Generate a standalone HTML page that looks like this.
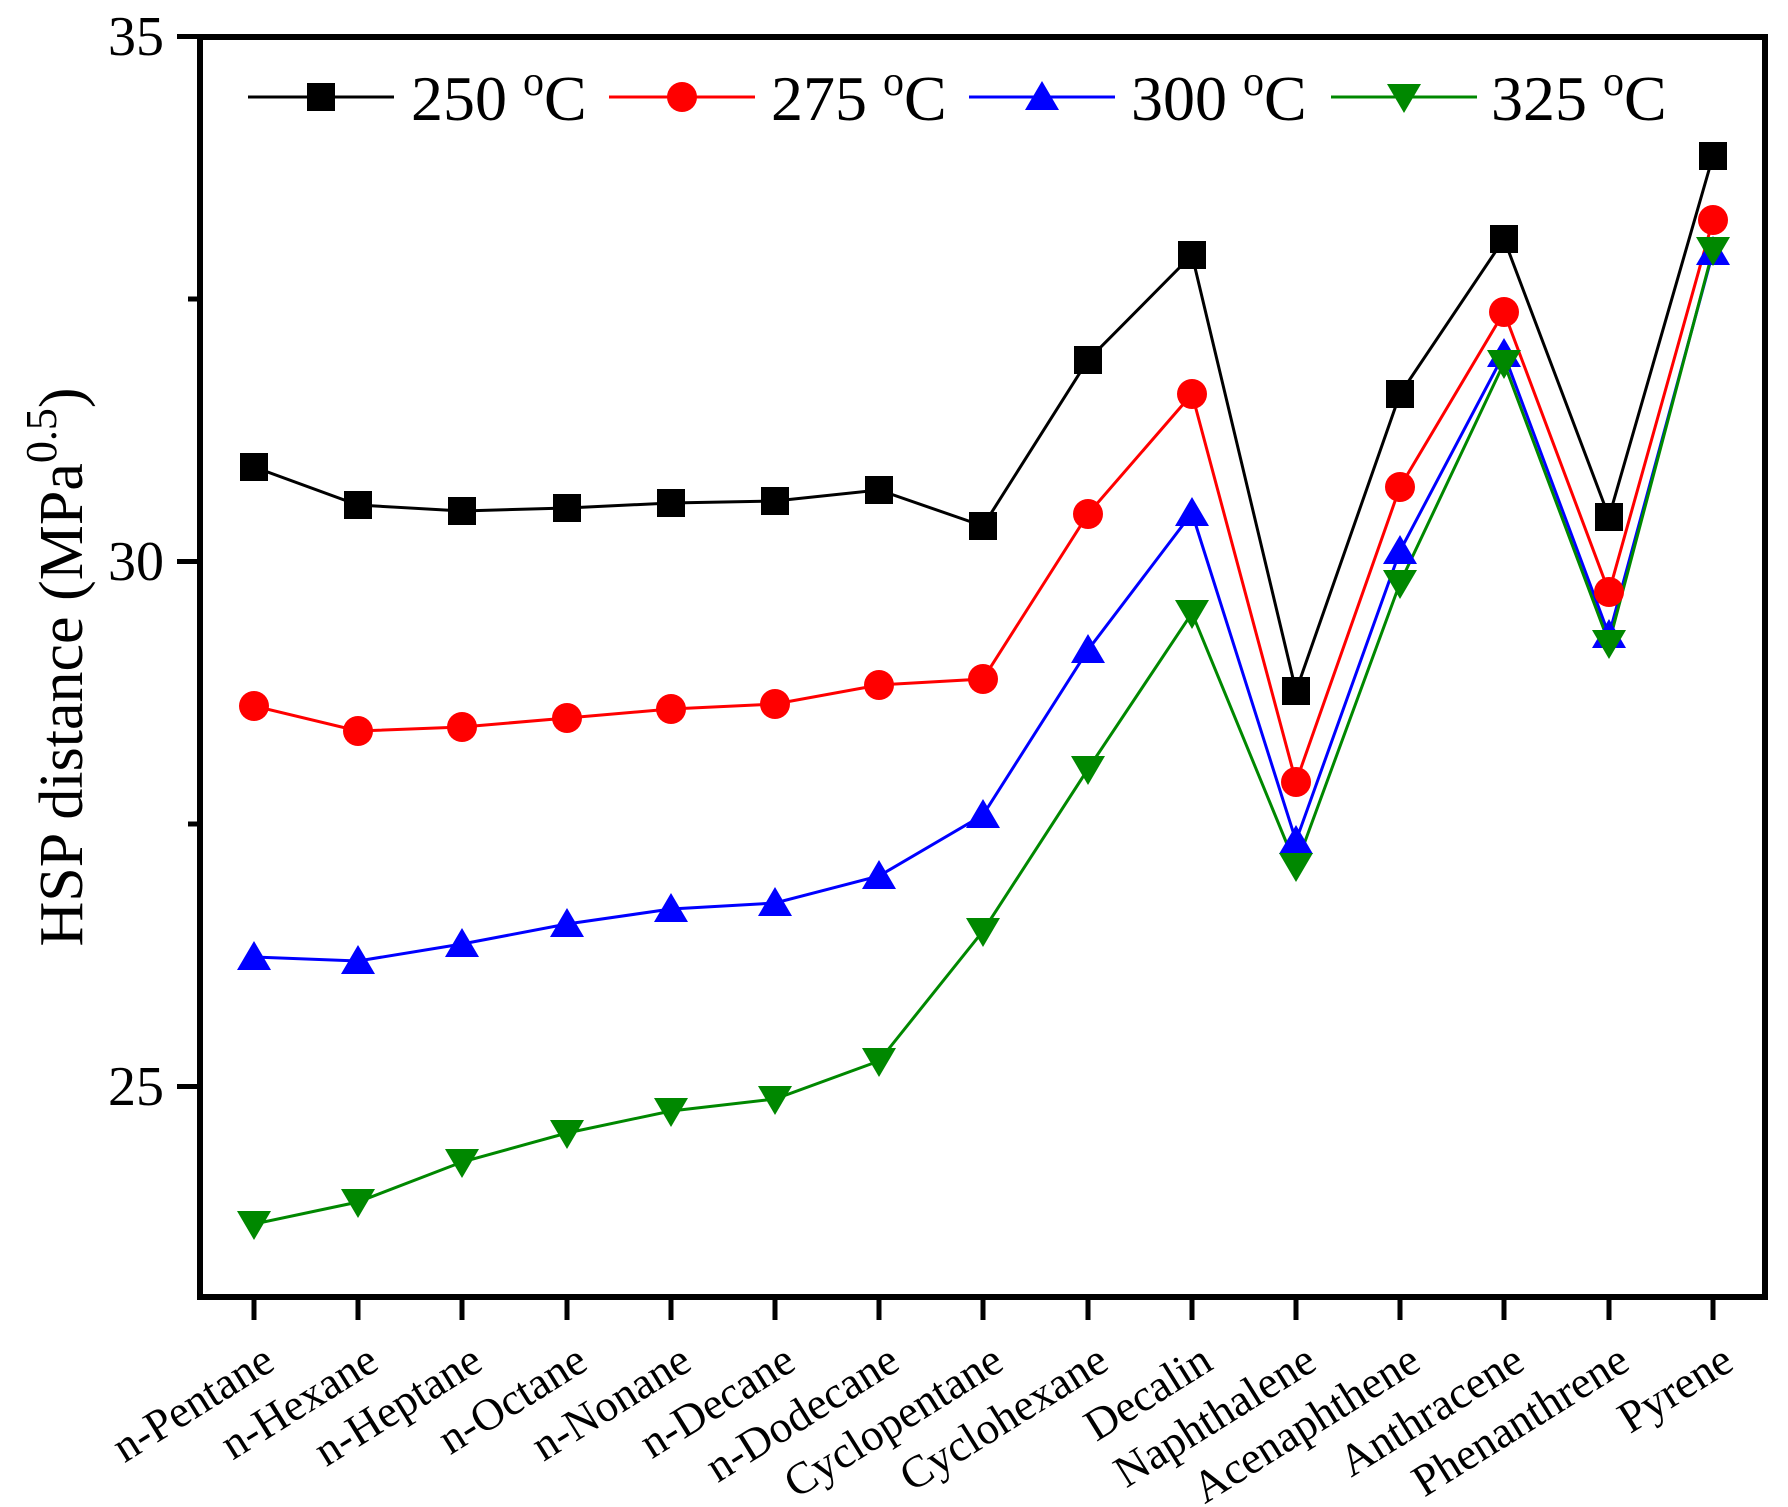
<!DOCTYPE html>
<html><head><style>body{margin:0;background:#fff}svg{display:block}</style></head><body>
<svg width="1788" height="1507" viewBox="0 0 1788 1507" xmlns="http://www.w3.org/2000/svg" xmlns:xlink="http://www.w3.org/1999/xlink" font-family="Liberation Serif, serif">
<defs>
<rect id="sq" x="-14" y="-14" width="28" height="28" fill="#000"/>
<circle id="ci" r="15" fill="#f00"/>
<polygon id="up" points="0,-16 17,13 -17,13" fill="#00f"/>
<polygon id="dn" points="0,16 17,-13 -17,-13" fill="#080"/>
</defs>
<rect width="1788" height="1507" fill="#fff"/>
<g fill="none" stroke-width="3">
<polyline stroke="#000" points="254,467 358,505 462,511 567,508 671,503 775,501 879,490 983,526 1088,360 1192,255 1296,691 1400,394 1504,239 1609,517 1713,156"/>
<polyline stroke="#f00" points="254,706 358,731 462,727 567,718 671,709 775,704 879,685 983,679 1088,514 1192,394 1296,782 1400,487 1504,312 1609,592 1713,220"/>
<polyline stroke="#00f" points="254,957 358,961 462,944 567,924 671,909 775,903 879,876 983,815 1088,650 1192,513 1296,841 1400,551 1504,354 1609,635 1713,252"/>
<polyline stroke="#080" points="254,1224 358,1202 462,1162 567,1133 671,1111 775,1099 879,1061 983,931 1088,769 1192,613 1296,866 1400,583 1504,363 1609,643 1713,250"/>
</g>
<g>
<use xlink:href="#sq" x="254" y="467"/><use xlink:href="#sq" x="358" y="505"/><use xlink:href="#sq" x="462" y="511"/><use xlink:href="#sq" x="567" y="508"/><use xlink:href="#sq" x="671" y="503"/><use xlink:href="#sq" x="775" y="501"/><use xlink:href="#sq" x="879" y="490"/><use xlink:href="#sq" x="983" y="526"/><use xlink:href="#sq" x="1088" y="360"/><use xlink:href="#sq" x="1192" y="255"/><use xlink:href="#sq" x="1296" y="691"/><use xlink:href="#sq" x="1400" y="394"/><use xlink:href="#sq" x="1504" y="239"/><use xlink:href="#sq" x="1609" y="517"/><use xlink:href="#sq" x="1713" y="156"/>
<use xlink:href="#ci" x="254" y="706"/><use xlink:href="#ci" x="358" y="731"/><use xlink:href="#ci" x="462" y="727"/><use xlink:href="#ci" x="567" y="718"/><use xlink:href="#ci" x="671" y="709"/><use xlink:href="#ci" x="775" y="704"/><use xlink:href="#ci" x="879" y="685"/><use xlink:href="#ci" x="983" y="679"/><use xlink:href="#ci" x="1088" y="514"/><use xlink:href="#ci" x="1192" y="394"/><use xlink:href="#ci" x="1296" y="782"/><use xlink:href="#ci" x="1400" y="487"/><use xlink:href="#ci" x="1504" y="312"/><use xlink:href="#ci" x="1609" y="592"/><use xlink:href="#ci" x="1713" y="220"/>
<use xlink:href="#up" x="254" y="957"/><use xlink:href="#up" x="358" y="961"/><use xlink:href="#up" x="462" y="944"/><use xlink:href="#up" x="567" y="924"/><use xlink:href="#up" x="671" y="909"/><use xlink:href="#up" x="775" y="903"/><use xlink:href="#up" x="879" y="876"/><use xlink:href="#up" x="983" y="815"/><use xlink:href="#up" x="1088" y="650"/><use xlink:href="#up" x="1192" y="513"/><use xlink:href="#up" x="1296" y="841"/><use xlink:href="#up" x="1400" y="551"/><use xlink:href="#up" x="1504" y="354"/><use xlink:href="#up" x="1609" y="635"/><use xlink:href="#up" x="1713" y="252"/>
<use xlink:href="#dn" x="254" y="1224"/><use xlink:href="#dn" x="358" y="1202"/><use xlink:href="#dn" x="462" y="1162"/><use xlink:href="#dn" x="567" y="1133"/><use xlink:href="#dn" x="671" y="1111"/><use xlink:href="#dn" x="775" y="1099"/><use xlink:href="#dn" x="879" y="1061"/><use xlink:href="#dn" x="983" y="931"/><use xlink:href="#dn" x="1088" y="769"/><use xlink:href="#dn" x="1192" y="613"/><use xlink:href="#dn" x="1296" y="866"/><use xlink:href="#dn" x="1400" y="583"/><use xlink:href="#dn" x="1504" y="363"/><use xlink:href="#dn" x="1609" y="643"/><use xlink:href="#dn" x="1713" y="250"/>
</g>
<rect x="200" y="37" width="1565" height="1260" fill="none" stroke="#000" stroke-width="6"/>
<g stroke="#000" stroke-width="5">
<line x1="177" x2="200" y1="36.5" y2="36.5"/><line x1="177" x2="200" y1="561.5" y2="561.5"/><line x1="177" x2="200" y1="1086.5" y2="1086.5"/>
<line x1="188" x2="200" y1="299" y2="299"/><line x1="188" x2="200" y1="824" y2="824"/>
<line x1="254" x2="254" y1="1297" y2="1320"/><line x1="358" x2="358" y1="1297" y2="1320"/><line x1="462" x2="462" y1="1297" y2="1320"/><line x1="567" x2="567" y1="1297" y2="1320"/><line x1="671" x2="671" y1="1297" y2="1320"/><line x1="775" x2="775" y1="1297" y2="1320"/><line x1="879" x2="879" y1="1297" y2="1320"/><line x1="983" x2="983" y1="1297" y2="1320"/><line x1="1088" x2="1088" y1="1297" y2="1320"/><line x1="1192" x2="1192" y1="1297" y2="1320"/><line x1="1296" x2="1296" y1="1297" y2="1320"/><line x1="1400" x2="1400" y1="1297" y2="1320"/><line x1="1504" x2="1504" y1="1297" y2="1320"/><line x1="1609" x2="1609" y1="1297" y2="1320"/><line x1="1713" x2="1713" y1="1297" y2="1320"/>
</g>
<g font-size="56" text-anchor="end">
<text x="164" y="55">35</text><text x="164" y="580">30</text><text x="164" y="1105">25</text>
</g>
<g font-size="45" text-anchor="end">
<text transform="translate(277,1368) rotate(-32)">n-Pentane</text>
<text transform="translate(381,1368) rotate(-32)">n-Hexane</text>
<text transform="translate(485,1368) rotate(-32)">n-Heptane</text>
<text transform="translate(590,1368) rotate(-32)">n-Octane</text>
<text transform="translate(694,1368) rotate(-32)">n-Nonane</text>
<text transform="translate(798,1368) rotate(-32)">n-Decane</text>
<text transform="translate(902,1368) rotate(-32)">n-Dodecane</text>
<text transform="translate(1006,1368) rotate(-32)">Cyclopentane</text>
<text transform="translate(1111,1368) rotate(-32)">Cyclohexane</text>
<text transform="translate(1215,1368) rotate(-32)">Decalin</text>
<text transform="translate(1319,1368) rotate(-32)">Naphthalene</text>
<text transform="translate(1423,1368) rotate(-32)">Acenaphthene</text>
<text transform="translate(1527,1368) rotate(-32)">Anthracene</text>
<text transform="translate(1632,1368) rotate(-32)">Phenanthrene</text>
<text transform="translate(1736,1368) rotate(-32)">Pyrene</text>
</g>
<text transform="translate(82,667) rotate(-90)" font-size="62" text-anchor="middle">HSP distance (MPa<tspan dy="-26" font-size="44">0.5</tspan><tspan dy="26">)</tspan></text>
<g stroke-width="3">
<line x1="248" x2="394" y1="97" y2="97" stroke="#000"/><use xlink:href="#sq" x="321" y="97"/>
<line x1="609" x2="755" y1="97" y2="97" stroke="#f00"/><use xlink:href="#ci" x="682" y="97"/>
<line x1="969" x2="1115" y1="97" y2="97" stroke="#00f"/><use xlink:href="#up" x="1042" y="97"/>
<line x1="1331" x2="1477" y1="97" y2="97" stroke="#080"/><use xlink:href="#dn" x="1404" y="97"/>
</g>
<g font-size="64">
<text x="411" y="120">250 <tspan dy="-25" font-size="42">o</tspan><tspan dy="25">C</tspan></text>
<text x="771" y="120">275 <tspan dy="-25" font-size="42">o</tspan><tspan dy="25">C</tspan></text>
<text x="1131" y="120">300 <tspan dy="-25" font-size="42">o</tspan><tspan dy="25">C</tspan></text>
<text x="1491" y="120">325 <tspan dy="-25" font-size="42">o</tspan><tspan dy="25">C</tspan></text>
</g>
</svg>
</body></html>
